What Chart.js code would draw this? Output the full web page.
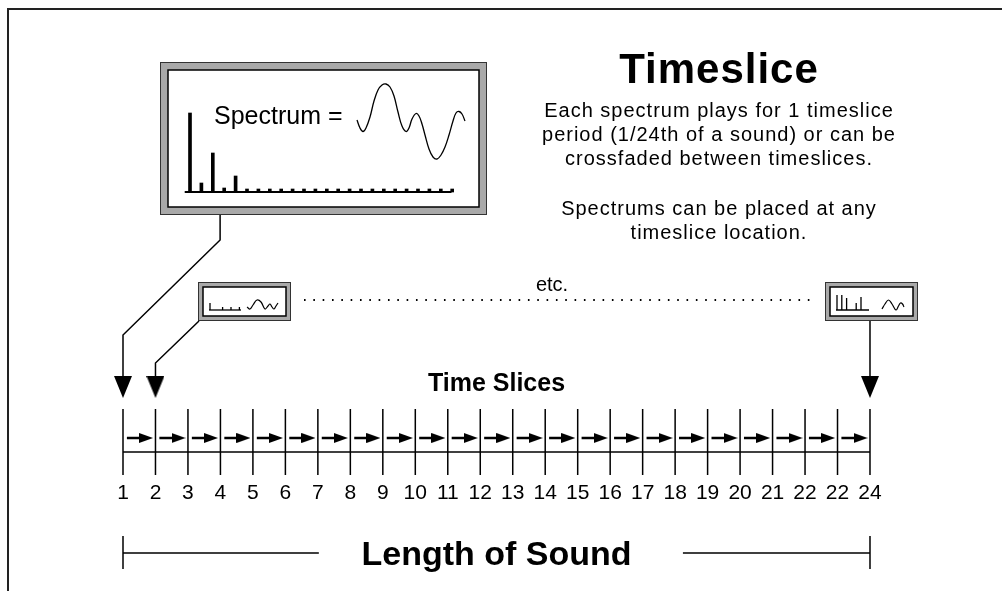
<!DOCTYPE html>
<html>
<head>
<meta charset="utf-8">
<title>Timeslice</title>
<script src="https://cdn.jsdelivr.net/npm/chart.js@4.4.0/dist/chart.umd.min.js"></script>
<style>
  html, body { margin: 0; padding: 0; background: #fff; overflow: hidden; }
  #wrap { width: 1002px; height: 591px; position: relative; }
</style>
</head>
<body>
<div id="wrap"><canvas id="chart"></canvas></div>
<script>
// ================================
// Data
// ================================
const sliceNumbers = [1, 2, 3, 4, 5, 6, 7, 8, 9, 10, 11, 12, 13, 14, 15, 16, 17, 18, 19, 20, 21, 22, 23, 24];
const tickLabels = ["1", "2", "3", "4", "5", "6", "7", "8", "9", "10", "11", "12", "13", "14", "15", "16", "17", "18", "19", "20", "21", "22", "22", "24"];
const pointedSlices = [1, 2, 24]; // slices the spectrum boxes point at

// spectrum inside the big box (24 partials)
const harmonicAmps = [79, 9, 39, 4, 16, 3, 3, 3, 3, 3, 3, 3, 3, 3, 3, 3, 3, 3, 3, 3, 3, 3, 3, 3];
// waveform next to "Spectrum ="
const waveU = [357, 360, 363, 366, 370, 374, 378, 382, 386, 390, 394, 398, 402, 406, 409, 412, 416, 419, 422, 425, 429, 433, 437, 441, 445, 449, 453, 456, 459, 462, 465];
const waveV = [120, 128, 131.5, 128, 117, 101, 90, 85, 84, 87, 96, 112, 126, 131.5, 128, 119, 113.5, 116, 124, 135, 149, 157, 159, 155, 147, 135, 121, 113, 111.5, 114, 121];

// small boxes (slice 2 and slice 24)
const miniAmpsA = [7, 0, 0, 3, 0, 3, 0, 3];
const miniAmpsB = [15, 15, 12, 0, 7, 13];
const miniWaveAU = [247, 250, 253, 257, 261, 265, 268, 270, 272, 274, 276, 278];
const miniWaveAV = [307, 309, 305, 300, 302, 309, 306, 304, 307, 309, 306, 303];
const miniWaveBU = [882, 885, 888.5, 892, 896, 898.5, 900.5, 902.5, 904];
const miniWaveBV = [309, 304, 300, 304, 310, 306, 303, 304, 307];

const noteLines = [
  "Each spectrum plays for 1 timeslice",
  "period (1/24th of a sound) or can be",
  "crossfaded between timeslices.",
  "",
  "Spectrums can be placed at any",
  "timeslice location."
];

// ================================
// Layout
// ================================
const W = 1002, H = 591;
const SLICE_PX0 = 123, SLICE_STEP = 32.478;
const X_MIN = 1 - SLICE_PX0 / SLICE_STEP, X_MAX = X_MIN + W / SLICE_STEP;
const H_PX0 = 187, H_STEP = 11.4, H_BASE = 192;
const HX_MIN = 1 - H_PX0 / H_STEP, HX_MAX = HX_MIN + W / H_STEP;
const FONT = '"Liberation Sans", Arial, Helvetica, sans-serif';

const frames = [
  { l: 160, t: 62, r: 487, b: 215, band: 8 },
  { l: 198, t: 282, r: 291, b: 321, band: 5 },
  { l: 825, t: 282, r: 918, b: 321, band: 5 }
];

const GAP = { x: null, y: null };
const segs = (list) => list.flatMap((s) => [...s, GAP]);
const zip = (us, vs) => us.map((u, i) => ({ x: u, y: vs[i] }));

function miniBars(amps, u0, step, base) {
  return segs(amps.map((a, i) => [{ x: u0 + i * step, y: base }, { x: u0 + i * step, y: base - a }]).filter((s, i) => amps[i] > 0));
}

function arrowHead(w, h, dir) {
  const c = document.createElement("canvas");
  c.width = w; c.height = h;
  const g = c.getContext("2d");
  g.fillStyle = "#000";
  g.beginPath();
  if (dir === "down") { g.moveTo(0, 0); g.lineTo(w, 0); g.lineTo(w / 2, h); }
  else { g.moveTo(0, 0); g.lineTo(w, h / 2); g.lineTo(0, h); }
  g.closePath();
  g.fill();
  return c;
}
const headDown = arrowHead(18, 22, "down");
const headRight = arrowHead(14, 10, "right");

function line(data, extra) {
  return Object.assign({
    type: "scatter", data, showLine: true, borderColor: "#000", borderWidth: 1.5,
    pointRadius: 0, spanGaps: false, tension: 0
  }, extra || {});
}

// ================================
// Datasets
// ================================
const datasets = [
  // slice boundaries + baseline
  line(segs(sliceNumbers.map((v) => [{ x: v, y: 409 }, { x: v, y: 475 }]))),
  line([{ x: 1, y: 452 }, { x: 24, y: 452 }]),
  // arrows inside each slice
  line(segs(sliceNumbers.slice(0, -1).map((v) => [{ x: v + 0.12, y: 438 }, { x: v + 0.6, y: 438 }])), { borderWidth: 2.5 }),
  { type: "scatter", data: sliceNumbers.slice(0, -1).map((v) => ({ x: v + 0.71, y: 438 })), pointStyle: headRight, pointRadius: 6 },
  // connectors from spectrum boxes to slices
  line([{ x: 3.99, y: 215 }, { x: 3.99, y: 240 }, { x: 1, y: 335 }, { x: 1, y: 377 }]),
  line([{ x: 3.34, y: 321 }, { x: 2, y: 363 }, { x: 2, y: 377 }]),
  line([{ x: 24, y: 321 }, { x: 24, y: 377 }]),
  { type: "scatter", data: pointedSlices.map((v) => ({ x: v, y: 387 })), pointStyle: headDown, pointRadius: 8 },
  // length of sound bracket
  line(segs([
    [{ x: 1, y: 553 }, { x: 7.03, y: 553 }],
    [{ x: 18.24, y: 553 }, { x: 24, y: 553 }],
    [{ x: 1, y: 536 }, { x: 1, y: 569 }],
    [{ x: 24, y: 536 }, { x: 24, y: 569 }]
  ])),
  // dotted "etc." line
  line([{ x: 304, y: 300 }, { x: 815, y: 300 }], { xAxisID: "u", borderWidth: 2, borderDash: [1.6, 7.73] }),
  // big spectrum
  {
    type: "bar", data: harmonicAmps.map((a, i) => ({ x: i + 1, y: a })), xAxisID: "hx", yAxisID: "hy",
    backgroundColor: "#000", barThickness: 3
  },
  line([{ x: 0.8, y: 0 }, { x: 24.2, y: 0 }], { xAxisID: "hx", yAxisID: "hy", borderWidth: 2 }),
  line(zip(waveU, waveV), { xAxisID: "u", borderWidth: 1.3, tension: 0.4 }),
  // small spectra
  line(miniBars(miniAmpsA, 210, 4.2, 310), { xAxisID: "u", borderWidth: 1.3 }),
  line([{ x: 209, y: 310 }, { x: 241, y: 310 }], { xAxisID: "u", borderWidth: 1.3 }),
  line(zip(miniWaveAU, miniWaveAV), { xAxisID: "u", borderWidth: 1.2, tension: 0.4 }),
  line(miniBars(miniAmpsB, 837, 4.8, 310), { xAxisID: "u", borderWidth: 1.3 }),
  line([{ x: 836, y: 310 }, { x: 869, y: 310 }], { xAxisID: "u", borderWidth: 1.3 }),
  line(zip(miniWaveBU, miniWaveBV), { xAxisID: "u", borderWidth: 1.2, tension: 0.4 })
];

// ================================
// Frames + texts
// ================================
const texts = [
  { t: "Timeslice", u: 719, v: 83, size: 42, bold: true, ls: 1 },
  { t: "Spectrum =", u: 214, v: 124, size: 25, align: "left" },
  { t: "etc.", u: 552, v: 291, size: 20 },
  { t: "Time Slices", x: 12.5, v: 391, size: 25, bold: true },
  { t: "Length of Sound", x: 12.5, v: 565, size: 34, bold: true }
];
noteLines.forEach((t, i) => { if (t) texts.push({ t, u: 719, v: 117 + i * 24 + (i > 3 ? 2 : 0), size: 20, ls: 1 }); });

const diagramPlugin = {
  id: "diagram",
  beforeDatasetsDraw(chart) {
    const { ctx } = chart;
    const u = chart.scales.u, y = chart.scales.y;
    ctx.save();
    // page border (top + left)
    ctx.strokeStyle = "#222";
    ctx.lineWidth = 2;
    ctx.beginPath();
    ctx.moveTo(u.getPixelForValue(8), y.getPixelForValue(591));
    ctx.lineTo(u.getPixelForValue(8), y.getPixelForValue(9));
    ctx.lineTo(u.getPixelForValue(1002), y.getPixelForValue(9));
    ctx.stroke();
    // spectrum boxes
    frames.forEach((f) => {
      const l = u.getPixelForValue(f.l), r = u.getPixelForValue(f.r);
      const t = y.getPixelForValue(f.t), b = y.getPixelForValue(f.b);
      ctx.fillStyle = "#a9a9a9";
      ctx.fillRect(l, t, r - l, b - t);
      ctx.strokeStyle = "#333";
      ctx.lineWidth = 1;
      ctx.strokeRect(l + 0.5, t + 0.5, r - l - 1, b - t - 1);
      ctx.fillStyle = "#fff";
      ctx.fillRect(l + f.band, t + f.band, r - l - 2 * f.band, b - t - 2 * f.band);
      ctx.strokeStyle = "#000";
      ctx.lineWidth = 1.5;
      ctx.strokeRect(l + f.band, t + f.band, r - l - 2 * f.band, b - t - 2 * f.band);
    });
    ctx.restore();
  },
  afterDraw(chart) {
    const { ctx } = chart;
    const { u, x, y } = chart.scales;
    ctx.save();
    ctx.fillStyle = "#000";
    ctx.textBaseline = "alphabetic";
    texts.forEach((s) => {
      ctx.font = (s.bold ? "bold " : "") + s.size + "px " + FONT;
      ctx.textAlign = s.align || "center";
      ctx.letterSpacing = (s.ls || 0) + "px";
      const px = s.x !== undefined ? x.getPixelForValue(s.x) : u.getPixelForValue(s.u);
      ctx.fillText(s.t, px, y.getPixelForValue(s.v));
    });
    ctx.restore();
  }
};

// ================================
// Chart
// ================================
Chart.defaults.font.family = FONT;

new Chart(document.getElementById("chart"), {
  type: "scatter",
  data: { datasets },
  options: {
    responsive: true,
    maintainAspectRatio: false,
    animation: false,
    layout: { padding: 0, autoPadding: false },
    plugins: { legend: { display: false }, tooltip: { enabled: false } },
    events: [],
    scales: {
      x: {
        type: "linear", min: X_MIN, max: X_MAX,
        position: { y: 473 },
        grid: { display: false },
        border: { display: false },
        afterBuildTicks: (axis) => { axis.ticks = sliceNumbers.map((v) => ({ value: v })); },
        ticks: {
          autoSkip: false, maxRotation: 0, minRotation: 0, padding: 0, color: "#000",
          font: { size: 21 },
          callback: (v, i) => tickLabels[i]
        }
      },
      y: { type: "linear", min: 0, max: H, reverse: true, display: false },
      u: { type: "linear", axis: "x", position: "bottom", min: 0, max: W, display: false },
      hx: { type: "linear", axis: "x", position: "bottom", min: HX_MIN, max: HX_MAX, offset: false, grid: { offset: false }, display: false },
      hy: { type: "linear", axis: "y", position: "left", min: H_BASE - H, max: H_BASE, display: false }
    }
  },
  plugins: [diagramPlugin]
});
</script>
</body>
</html>
